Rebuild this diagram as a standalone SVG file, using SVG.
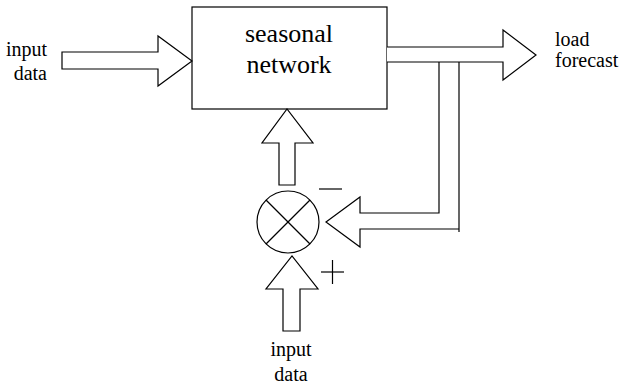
<svg xmlns="http://www.w3.org/2000/svg" width="621" height="388" viewBox="0 0 621 388">
<style>
.s{fill:#fff;stroke:#000;stroke-width:1.2;stroke-linejoin:miter}
.l{fill:none;stroke:#000;stroke-width:1.2}
text{font-family:'Liberation Serif','Times New Roman',Times,'DejaVu Serif',serif;fill:#000}
</style>
<rect width="621" height="388" fill="#fff"/>
<g id="input-left" font-family="Liberation Serif, Times New Roman, serif">
<text font-size="20" text-anchor="end" x="47" y="56">input</text>
<text font-size="20" text-anchor="end" x="47" y="80">data</text>
</g>
<g id="seasonal-network" font-family="Liberation Serif, Times New Roman, serif">
<rect class="s" x="192" y="7" width="195" height="102"/>
<text font-size="26" text-anchor="middle" x="289" y="42">seasonal</text>
<text font-size="26" text-anchor="middle" x="289" y="73">network</text>
</g>
<g id="load-forecast" font-family="Liberation Serif, Times New Roman, serif">
<text font-size="20" x="555" y="46">load</text>
<text font-size="20" x="555" y="67">forecast</text>
</g>
<g id="comparator">
<circle class="s" cx="288" cy="222" r="31"/>
<line class="l" x1="266" y1="200" x2="310" y2="244"/>
<line class="l" x1="310" y1="200" x2="266" y2="244"/>
<line class="l" x1="319" y1="189" x2="342" y2="189"/>
<line class="l" x1="321" y1="272" x2="344" y2="272"/>
<line class="l" x1="332.5" y1="260" x2="332.5" y2="284"/>
</g>
<g id="input-bottom" font-family="Liberation Serif, Times New Roman, serif">
<text font-size="20" text-anchor="middle" x="291" y="356">input</text>
<text font-size="20" text-anchor="middle" x="291" y="381">data</text>
</g>
<g id="connectors">
<polygon class="s" points="62,52 158,52 158,36 192,61 158,86 158,69 62,69"/>
<polyline class="s" points="387,47 503,47 503,30 536,55 503,80 503,62 387,62"/>
<polygon class="s" points="279,185 279,143 262,143 287,109 313,143 295,143 295,185"/>
<polygon class="s" points="283,331 283,289 266,289 292,256 318,289 300,289 300,331"/>
<polyline class="l" points="439,62 439,213 360,213 360,197 326,222 360,247 360,229 459,229"/>
<line class="l" x1="459" y1="62" x2="459" y2="232"/>
</g>
</svg>
